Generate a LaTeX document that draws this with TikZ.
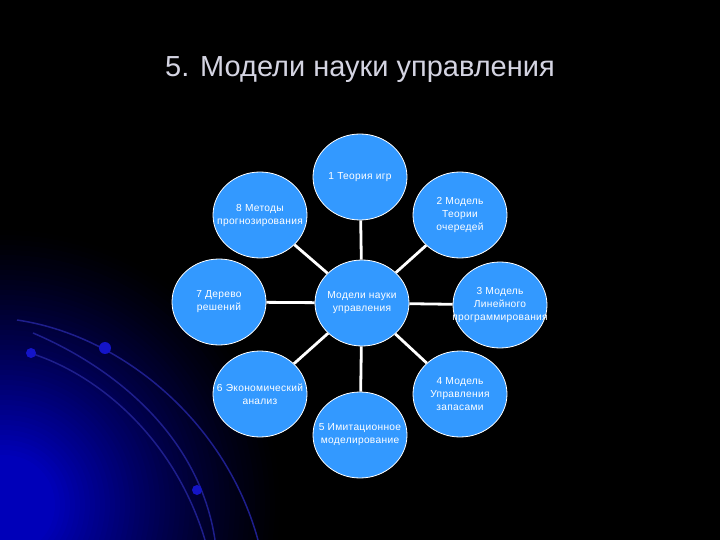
\documentclass[tikz,border=0pt]{standalone}
\usepackage{fontspec}
\setmainfont{Liberation Sans}
\newfontfamily\bubblefont[LetterSpace=3]{Liberation Sans}
\usetikzlibrary{shapes.geometric}
\definecolor{glowc}{RGB}{0,0,185}
\definecolor{bubblec}{RGB}{51,153,255}
\definecolor{arcc}{RGB}{30,30,140}
\definecolor{dotc}{RGB}{20,20,200}
\definecolor{titlec}{RGB}{212,212,226}
\tikzset{
  bubble/.style={ellipse, draw=white, line width=0.8pt, fill=bubblec, minimum width=94pt, minimum height=86pt, inner sep=0pt},
  btext/.style={text=white, font=\bubblefont\fontsize{10.2}{13}\selectfont, align=center, inner sep=0pt},
  conn/.style={draw=white, line width=2.8pt},
  arcline/.style={draw=arcc, line width=1.5pt},
}
\begin{document}
\begin{tikzpicture}[x=1pt,y=-1pt]
\useasboundingbox (0,0) rectangle (720,540);
\clip (0,0) rectangle (720,540);
\fill[black] (0,0) rectangle (720,540);
% glow
\foreach \i in {0,...,54}{
  \pgfmathsetmacro{\rr}{280-5*\i}
  \pgfmathsetmacro{\pc}{min(100,(\i/46)^1.3*100)}
  \fill[glowc!\pc!black] (5,505) circle (\rr pt);
}
% arcs
\draw[arcline] (17,320) .. controls (120,335) and (225,420) .. (258,540);
\draw[arcline] (33,333) .. controls (120,370) and (200,440) .. (215,540);
\draw[arcline] (30,353) .. controls (100,375) and (175,440) .. (205,540);
\fill[dotc] (105,348) circle (6pt);
\fill[dotc] (31,353) circle (5pt);
\fill[dotc] (197,490) circle (5pt);
% title
\node[text=titlec, font=\fontsize{29}{34}\selectfont] (title) at (360,70) {5. Модели науки управления};
% bubbles
\node[bubble] (c0) at (362,303) {};
\node[bubble] (c1) at (360,177) {};
\node[bubble] (c2) at (460,215) {};
\node[bubble] (c3) at (500,305) {};
\node[bubble] (c4) at (460,394) {};
\node[bubble] (c5) at (360,435) {};
\node[bubble] (c6) at (260,394) {};
\node[bubble] (c7) at (219,302) {};
\node[bubble] (c8) at (260,215) {};
% connectors
\draw[conn] (c0) -- (c1);
\draw[conn] (c0) -- (c2);
\draw[conn] (c0) -- (c3);
\draw[conn] (c0) -- (c4);
\draw[conn] (c0) -- (c5);
\draw[conn] (c0) -- (c6);
\draw[conn] (c0) -- (c7);
\draw[conn] (c0) -- (c8);
% texts
\node[btext] (t0) at (c0) {Модели науки\\управления};
\node[btext] (t1) at (c1) {1 Теория игр};
\node[btext] (t2) at (c2) {2 Модель\\Теории\\очередей};
\node[btext] (t3) at (c3) {3 Модель\\Линейного\\программирования};
\node[btext] (t4) at (c4) {4 Модель\\Управления\\запасами};
\node[btext] (t5) at (c5) {5 Имитационное\\моделирование};
\node[btext] (t6) at (c6) {6 Экономический\\анализ};
\node[btext] (t7) at (c7) {7 Дерево\\решений};
\node[btext] (t8) at (c8) {8 Методы\\прогнозирования};
\end{tikzpicture}
\end{document}
